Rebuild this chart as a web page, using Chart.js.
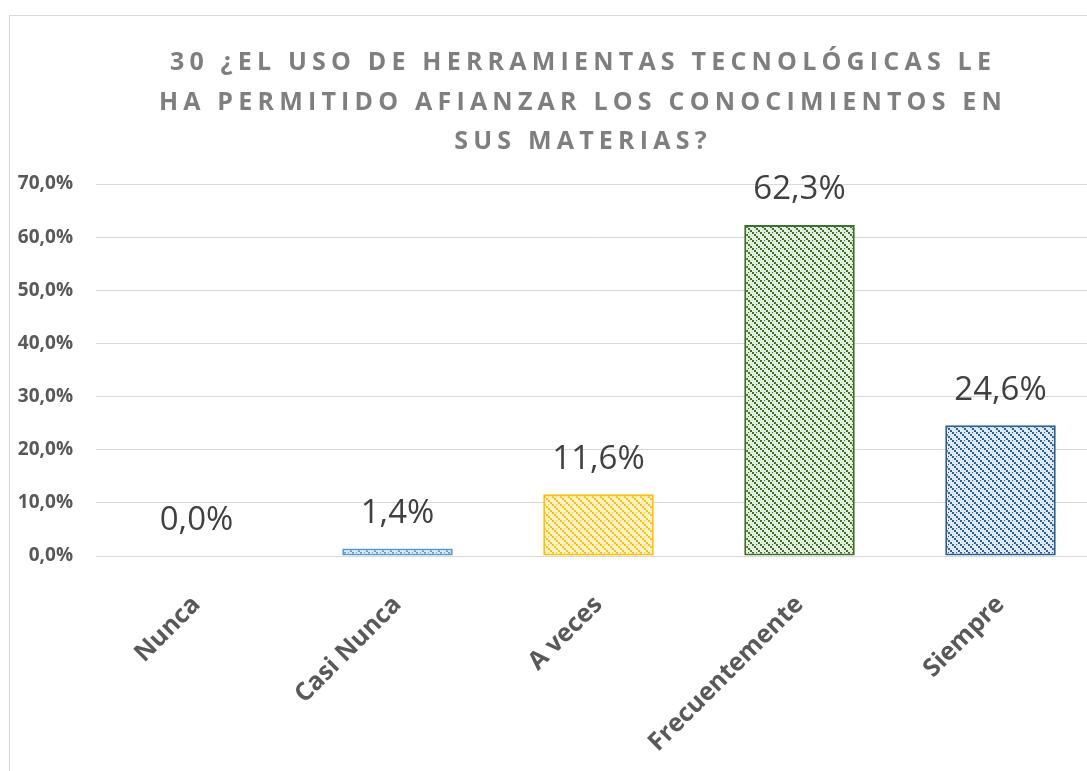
<!DOCTYPE html>
<html>
<head>
<meta charset="utf-8">
<script src="https://cdn.jsdelivr.net/npm/chart.js@4.4.1/dist/chart.umd.min.js"></script>
<style>
  html, body { margin: 0; padding: 0; background: #fff; overflow: hidden; }
  #frame { position: absolute; left: 9px; top: 15px; width: 1200px; height: 900px; border: 1px solid #d9d9d9; }
  #wrap { position: absolute; left: 0; top: 0; width: 1120px; height: 771px; }
</style>
</head>
<body>
<div id="frame"></div>
<div id="wrap"><canvas id="surveyChart"></canvas></div>
<script>
// chart data
const titleLines = [
    '30 ¿EL USO DE HERRAMIENTAS TECNOLÓGICAS LE',
    'HA PERMITIDO AFIANZAR LOS CONOCIMIENTOS EN',
    'SUS MATERIAS?'
];
const categories = ['Nunca', 'Casi Nunca', 'A veces', 'Frecuentemente', 'Siempre'];
const percentages = [0.0, 1.4, 11.6, 62.3, 24.6];
const yTickValues = [0, 10, 20, 30, 40, 50, 60, 70];

// fill colours per bar: [light background, dark pattern/border]
const barColors = [
    ['#ddebf7', '#5b9bd5'],
    ['#ddebf7', '#5b9bd5'],
    ['#fff2cc', '#ffc000'],
    ['#e2efda', '#3f6f2a'],
    ['#ddebf7', '#2f5f96']
];

function fmtPct(v) {
    return v.toFixed(1).replace('.', ',') + '%';
}

// small diagonal hatch, like the Excel pattern fill
function makePattern(bg, fg) {
    const tile = document.createElement('canvas');
    tile.width = 8;
    tile.height = 8;
    const t = tile.getContext('2d');
    t.fillStyle = bg;
    t.fillRect(0, 0, 8, 8);
    t.fillStyle = fg;
    t.fillRect(0, 0, 2, 2);
    t.fillRect(2, 2, 2, 2);
    t.fillRect(4, 4, 2, 2);
    t.fillRect(6, 6, 2, 2);
    t.fillRect(4, 0, 1, 1);
    return document.createElement('canvas').getContext('2d').createPattern(tile, 'repeat');
}

const titlePlugin = {
    id: 'spacedTitle',
    afterDraw(chart) {
        const ctx = chart.ctx;
        ctx.save();
        ctx.font = 'bold 25px "Open Sans"';
        ctx.fillStyle = '#7f7f7f';
        ctx.textAlign = 'center';
        ctx.textBaseline = 'middle';
        ctx.letterSpacing = '5.2px';
        const ys = [63, 103, 142];
        titleLines.forEach((line, i) => ctx.fillText(line, 583, ys[i]));
        ctx.restore();
    }
};

const valueLabels = {
    id: 'valueLabels',
    afterDatasetsDraw(chart) {
        const ctx = chart.ctx;
        const meta = chart.getDatasetMeta(0);
        ctx.save();
        ctx.font = '33px "Open Sans"';
        ctx.fillStyle = '#404040';
        ctx.textAlign = 'center';
        ctx.textBaseline = 'middle';
        meta.data.forEach((bar, i) => {
            ctx.fillText(fmtPct(percentages[i]), bar.x, bar.y - 35);
        });
        ctx.restore();
    }
};

const ctx = document.getElementById('surveyChart').getContext('2d');
window.surveyChartInstance = new Chart(ctx, {
    type: 'bar',
    data: {
        labels: categories,
        datasets: [{
            data: percentages,
            backgroundColor: barColors.map(c => makePattern(c[0], c[1])),
            borderColor: barColors.map(c => c[1]),
            borderWidth: 2,
            borderSkipped: false,
            categoryPercentage: 1,
            barPercentage: 0.55
        }]
    },
    options: {
        responsive: true,
        maintainAspectRatio: false,
        animation: false,
        layout: { padding: { top: 184, right: 19, left: 0, bottom: 0 } },
        plugins: {
            legend: { display: false },
            title: { display: false },
            tooltip: { enabled: false }
        },
        scales: {
            y: {
                min: 0,
                max: 70,
                afterFit(scale) { scale.width = 96; },
                afterBuildTicks(scale) { scale.ticks = yTickValues.map(v => ({ value: v })); },
                grid: { color: '#d9d9d9', lineWidth: 1, drawTicks: false },
                border: { display: false },
                ticks: {
                    padding: 23,
                    color: '#595959',
                    font: { family: '"Open Sans"', size: 19, weight: 'bold' },
                    callback: v => fmtPct(v)
                }
            },
            x: {
                afterFit(scale) { scale.height = 215; },
                grid: { display: false, drawTicks: false },
                border: { display: false },
                ticks: {
                    padding: 34,
                    minRotation: 45,
                    maxRotation: 45,
                    color: '#595959',
                    font: { family: '"Open Sans"', size: 25, weight: 'bold' }
                }
            }
        }
    },
    plugins: [titlePlugin, valueLabels]
});
</script>
</body>
</html>
